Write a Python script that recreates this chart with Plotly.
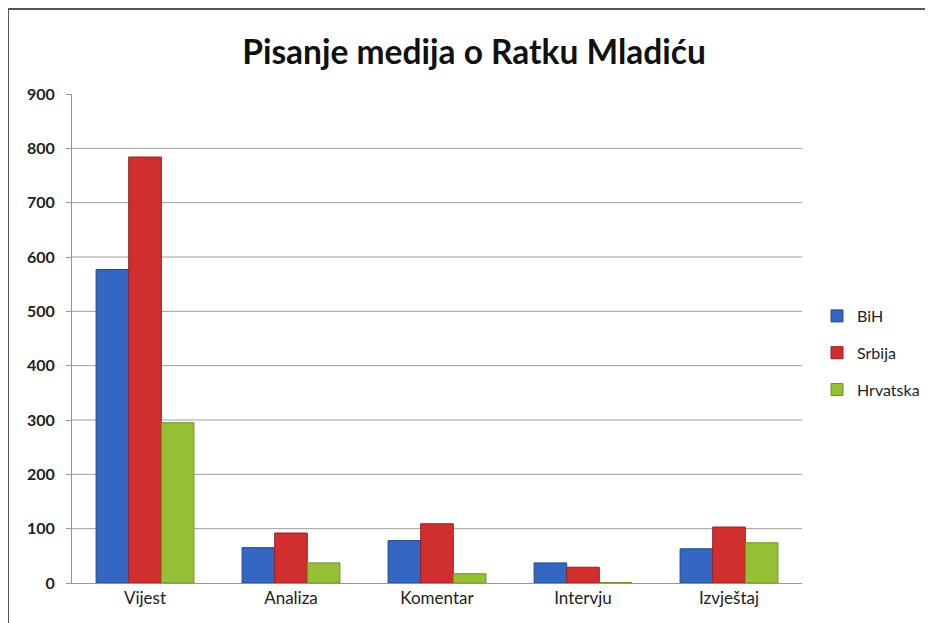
import plotly.graph_objects as go

categories = ["Vijest", "Analiza", "Komentar", "Intervju", "Izvještaj"]
bih = [577, 65, 78, 37, 63]
srbija = [784, 92, 109, 29, 103]
hrvatska = [295, 37, 17, 1, 74]
series_names = ["BiH", "Srbija", "Hrvatska"]
y_ticks = [0, 100, 200, 300, 400, 500, 600, 700, 800, 900]

colors = ["#3467c2", "#d12f2f", "#95bf35"]
edges = ["#23498f", "#9c1f1f", "#6e9124"]

fig = go.Figure()
for i, (name, vals, c, e) in enumerate(zip(series_names, [bih, srbija, hrvatska], colors, edges)):
    fig.add_trace(go.Bar(
        x=categories, y=vals, name=name, legendgroup=f"g{i}",
        marker=dict(color=c, line=dict(color=e, width=1)),
    ))

W, H = 933, 623
L, R, T, B = 64, 139, 86, 48
pw, ph = W - L - R, H - T - B

def px_x(p):
    return (p - L) / pw

def px_y(p):
    return (H - B - p) / ph

shapes = []
for t in y_ticks[1:-1]:
    shapes.append(dict(type="line", xref="paper", yref="y", x0=0, x1=1, y0=t, y1=t,
                       line=dict(color="#a39c9a", width=1), layer="below"))
# outer frame (top and left)
shapes.append(dict(type="line", xref="paper", yref="paper", x0=px_x(0), x1=px_x(W),
                   y0=px_y(1), y1=px_y(1), line=dict(color="#555555", width=2)))
shapes.append(dict(type="line", xref="paper", yref="paper", x0=px_x(0), x1=px_x(0),
                   y0=px_y(0), y1=px_y(H), line=dict(color="#555555", width=2)))

fig.update_layout(
    width=W, height=H,
    margin=dict(l=L, r=R, t=T, b=B),
    paper_bgcolor="white", plot_bgcolor="white",
    font=dict(family="Lato, 'Open Sans', sans-serif", color="#222222"),
    title=dict(text="<b>Pisanje medija o Ratku Mladiću</b>", x=px_x(466), xref="paper",
               xanchor="center", y=1 - 44 / H, yanchor="middle",
               font=dict(size=33.5, color="#111111", family="Lato, sans-serif")),
    barmode="group", bargap=0.33, bargroupgap=0,
    showlegend=True,
    legend=dict(x=px_x(809), y=px_y(291), xanchor="left", yanchor="top",
                font=dict(size=16, color="#222222"), tracegroupgap=13,
                itemwidth=30, bgcolor="rgba(0,0,0,0)"),
    shapes=shapes,
)
fig.update_yaxes(range=[0, 900], tickvals=y_ticks, showgrid=False,
                 showline=True, linecolor="#9a9290", linewidth=1,
                 ticks="outside", ticklen=5, tickcolor="#9a9290",
                 ticklabelstandoff=8,
                 tickfont=dict(size=16, color="#222222", family="Lato, sans-serif", weight="bold"),
                 zeroline=False)
fig.update_xaxes(showline=True, linecolor="#9a9290", linewidth=1,
                 ticks="", tickfont=dict(size=17, color="#222222"))

fig.write_html("out.html")
